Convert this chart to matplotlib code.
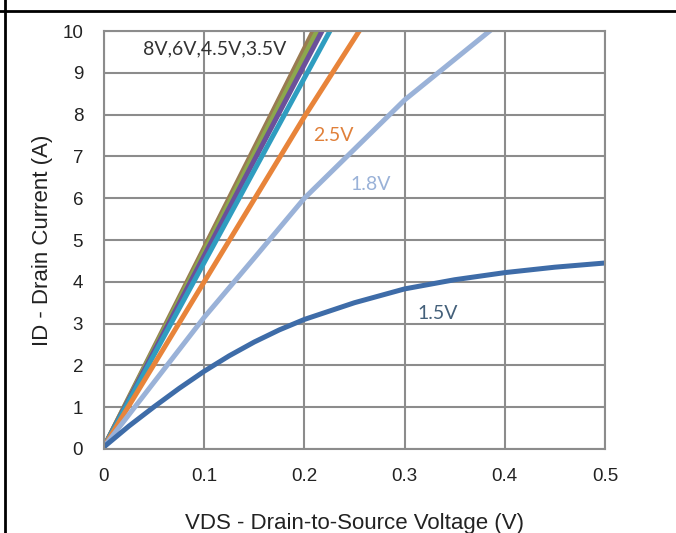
import matplotlib
matplotlib.use("Agg")
import matplotlib.pyplot as plt
from matplotlib.lines import Line2D

# Output characteristics (VDS in V, ID in A)
vds_15 = [0, 0.025, 0.05, 0.075, 0.1, 0.125, 0.15, 0.175, 0.2,
          0.25, 0.3, 0.35, 0.4, 0.45, 0.5]
id_15 = [0.05, 0.55, 1.01, 1.45, 1.86, 2.23, 2.56, 2.85, 3.1,
         3.5, 3.83, 4.05, 4.22, 4.35, 4.45]

vds_18 = [0, 0.05, 0.1, 0.15, 0.2, 0.3, 0.39]
id_18 = [0.05, 1.6, 3.15, 4.57, 6.0, 8.35, 10.1]

vds_25 = [0, 0.1, 0.2, 0.26]
id_25 = [0.05, 4.0, 7.95, 10.2]

vds_35 = [0, 0.23]
id_35 = [0.05, 10.2]

vds_45 = [0, 0.222]
id_45 = [0.05, 10.2]

vds_6 = [0, 0.217]
id_6 = [0.05, 10.2]

vds_8 = [0, 0.213]
id_8 = [0.05, 10.2]

x_ticks = [0, 0.1, 0.2, 0.3, 0.4, 0.5]
x_ticklabels = ["0", "0.1", "0.2", "0.3", "0.4", "0.5"]
y_ticks = list(range(0, 11))

fig = plt.figure(figsize=(6.76, 5.33), dpi=100)
ax = fig.add_axes([0.1538, 0.1576, 0.7412, 0.7842])

lw = 3.6
ax.plot(vds_8, id_8, color="#9A7B52", lw=lw, solid_capstyle="butt")
ax.plot(vds_6, id_6, color="#8CA84C", lw=lw, solid_capstyle="butt")
ax.plot(vds_45, id_45, color="#6B509A", lw=lw, solid_capstyle="butt")
ax.plot(vds_35, id_35, color="#2F9DC0", lw=lw, solid_capstyle="butt")
ax.plot(vds_25, id_25, color="#E8843A", lw=lw, solid_capstyle="butt")
ax.plot(vds_18, id_18, color="#9AB2D8", lw=lw, solid_capstyle="butt")
ax.plot(vds_15, id_15, color="#3E6CA8", lw=lw, solid_capstyle="round",
        solid_joinstyle="round")

ax.set_xlim(0, 0.5)
ax.set_ylim(0, 10)
ax.set_xticks(x_ticks)
ax.set_xticklabels(x_ticklabels)
ax.set_yticks(y_ticks)

ax.grid(True, color="#8C8C8C", lw=1.5)
ax.set_axisbelow(True)
for sp in ax.spines.values():
    sp.set_color("#8C8C8C")
    sp.set_linewidth(1.5)

ax.tick_params(length=0, labelsize=13.5, colors="#222222")
ax.tick_params(axis="y", pad=15)
ax.tick_params(axis="x", pad=14)
for lab in ax.get_xticklabels() + ax.get_yticklabels():
    lab.set_fontfamily("Liberation Sans")

ax.set_xlabel("VDS - Drain-to-Source Voltage (V)", fontsize=16,
              family="Liberation Sans", color="#222222")
ax.xaxis.set_label_coords(0.5, -0.152)
ax.set_ylabel("ID - Drain Current (A)", fontsize=16,
              family="Liberation Sans", color="#222222", labelpad=7)

# curve labels
lab_kw = dict(fontsize=14, family="Lato", va="center")
ax.text(0.039, 9.57, "8V,6V,4.5V,3.5V", color="#333333", **lab_kw)
ax.text(0.209, 7.51, "2.5V", color="#E0803A", **lab_kw)
ax.text(0.246, 6.32, "1.8V", color="#9AB2D8", **lab_kw)
ax.text(0.313, 3.23, "1.5V", color="#44607A", **lab_kw)

# table-cell border around the figure
fig.add_artist(Line2D([0, 1], [0.979, 0.979], color="black", lw=2,
                      transform=fig.transFigure))
fig.add_artist(Line2D([0.008, 0.008], [0, 1], color="black", lw=2,
                      transform=fig.transFigure))

fig.savefig("out.png", dpi=100)
